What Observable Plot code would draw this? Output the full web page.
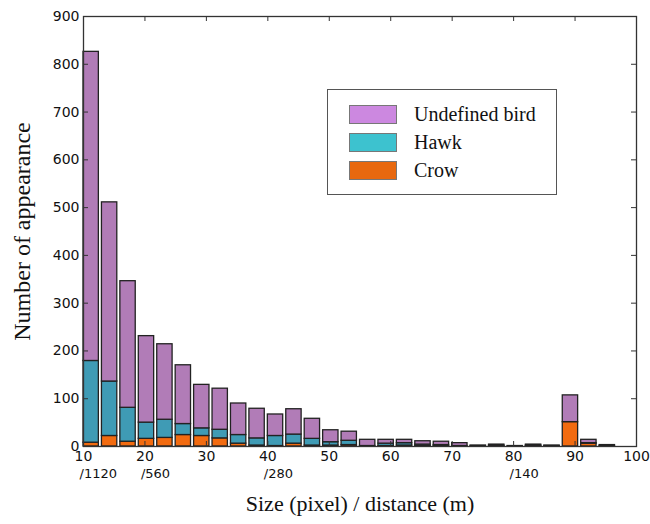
<!DOCTYPE html>
<html>
<head>
<meta charset="utf-8">
<script src="https://cdn.jsdelivr.net/npm/d3@7"></script>
<script src="https://cdn.jsdelivr.net/npm/@observablehq/plot@0.6"></script>
<style>
  html, body { margin: 0; padding: 0; background: #fff; }
  #wrap { position: relative; width: 650px; height: 524px; }
  #legend { position: absolute; left: 327px; top: 89px; width: 230px; height: 106px;
    border: 1px solid #555; background: #fff; box-sizing: border-box; }
  .item { position: absolute; left: 21px; height: 20px; display: flex; align-items: center; }
  .sw { width: 48px; height: 19px; border: 1px solid #777; box-sizing: border-box; }
  .lab { position: absolute; left: 65px; white-space: nowrap; font-family: "Liberation Serif", serif; font-size: 20px; color: #111; }
</style>
</head>
<body>
<div id="wrap"><div id="legend"></div></div>
<script>
// ---- data ----
const binStart = [10, 13, 16, 19, 22, 25, 28, 31, 34, 37, 40, 43, 46, 49, 52,
                  55, 58, 61, 64, 67, 70, 73, 76, 79, 82, 85, 88, 91, 94];
const crow     = [8, 22, 10, 16, 18, 24, 22, 17, 6, 2, 1, 6, 2, 2, 3,
                  0, 1, 2, 1, 1, 0, 0, 1, 0, 1, 1, 51, 6, 1];
const hawk     = [171, 114, 71, 34, 38, 23, 16, 18, 18, 15, 21, 19, 14, 7, 9,
                  1, 5, 5, 3, 2, 1, 1, 1, 0, 1, 0, 0, 1, 0];
const undefinedBird = [647, 375, 265, 181, 158, 123, 91, 86, 66, 62, 45, 53, 42, 25, 19,
                  13, 8, 7, 7, 7, 6, 1, 2, 1, 2, 1, 56, 7, 2];
const seriesNames = ["Crow", "Hawk", "Undefined bird"];
const legendOrder = ["Undefined bird", "Hawk", "Crow"];
const xTicks = [10, 20, 30, 40, 50, 60, 70, 80, 90, 100];
const yTicks = [0, 100, 200, 300, 400, 500, 600, 700, 800, 900];
const distTickX = [10, 20, 40, 80];
const distTickLabel = ["/1120", "/560", "/280", "/140"];
const xTitle = "Size (pixel) / distance (m)";
const yTitle = "Number of appearance";

// ---- build table ----
const seriesValues = {"Crow": crow, "Hawk": hawk, "Undefined bird": undefinedBird};
const rows = [];
binStart.forEach((b, i) => {
  for (const s of seriesNames) rows.push({bin: b, series: s, value: seriesValues[s][i]});
});
const distRows = distTickX.map((x, i) => ({x, label: distTickLabel[i]}));

const barColors = ["#f26b10", "#3f9bb5", "#b17cb7"];
const legendColors = {"Undefined bird": "#cc88e0", "Hawk": "#3dc2cf", "Crow": "#e8680f"};
const barWidth = 2.5;

const W = 650, H = 524, mL = 83, mR = 14, mT = 16, mB = 78;
const pw = W - mL - mR, ph = H - mT - mB;
const sans = "DejaVu Sans, sans-serif";
const serif = "Liberation Serif, serif";

const chart = Plot.plot({
  width: W, height: H,
  marginLeft: mL, marginRight: mR, marginTop: mT, marginBottom: mB,
  style: {background: "#fff", color: "#111"},
  x: {domain: [10, 100]},
  y: {domain: [0, 900]},
  color: {domain: seriesNames, range: barColors},
  marks: [
    Plot.rectY(rows, {
      x1: "bin", x2: d => d.bin + barWidth, y: "value",
      z: "series", fill: "series", order: seriesNames,
      stroke: "#222", strokeWidth: 1.3
    }),
    Plot.frame({stroke: "#333", strokeWidth: 1.3}),
    Plot.tickX(xTicks, {x: d => d, insetTop: ph - 5, stroke: "#333"}),
    Plot.tickX(xTicks, {x: d => d, insetBottom: ph - 5, stroke: "#333"}),
    Plot.tickY(yTicks, {y: d => d, insetRight: pw - 5, stroke: "#333"}),
    Plot.tickY(yTicks, {y: d => d, insetLeft: pw - 5, stroke: "#333"}),
    Plot.axisX(xTicks, {tickSize: 0, tickPadding: 5, fontSize: 14, fontFamily: sans, label: null}),
    Plot.axisY(yTicks, {tickSize: 0, tickPadding: 4, fontSize: 14, fontFamily: sans, label: null}),
    Plot.text(distRows, {x: "x", text: "label", frameAnchor: "bottom", dy: 31, dx: -4,
      textAnchor: "start", fontSize: 13, fontFamily: sans}),
    Plot.text([xTitle], {text: d => d, frameAnchor: "bottom", dy: 64, fontSize: 22, fontFamily: serif}),
    Plot.text([yTitle], {text: d => d, frameAnchor: "left", textAnchor: "middle", dx: -61, rotate: -90,
      fontSize: 24, fontFamily: serif})
  ]
});
document.getElementById("wrap").prepend(chart);

// ---- legend ----
const legend = document.getElementById("legend");
legendOrder.forEach((name, i) => {
  const item = document.createElement("div");
  item.className = "item";
  item.style.top = (14 + i * 28) + "px";
  const sw = document.createElement("div");
  sw.className = "sw";
  sw.style.background = legendColors[name];
  const lab = document.createElement("span");
  lab.className = "lab";
  lab.textContent = name;
  item.appendChild(sw);
  item.appendChild(lab);
  legend.appendChild(item);
});
</script>
</body>
</html>
